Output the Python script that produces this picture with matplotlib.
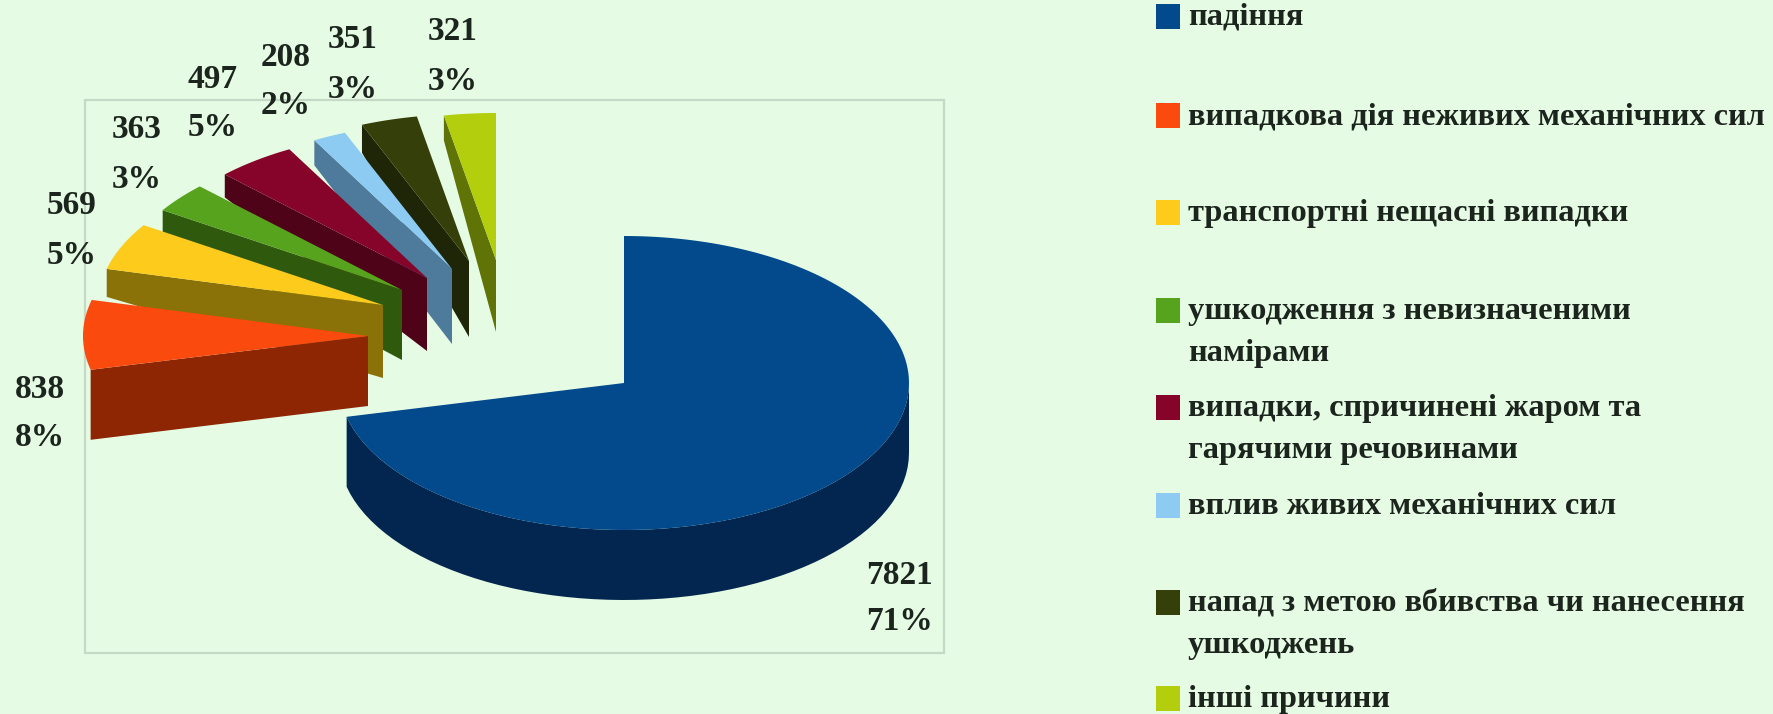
import numpy as np
import matplotlib
matplotlib.use("Agg")
import matplotlib.pyplot as plt
from matplotlib.patches import Polygon, Rectangle

# Injury causes and case counts
causes = [
    "падіння",
    "випадкова дія неживих механічних сил",
    "транспортні нещасні випадки",
    "ушкодження з невизначеними\nнамірами",
    "випадки, спричинені жаром та\nгарячими речовинами",
    "вплив живих механічних сил",
    "напад з метою вбивства чи нанесення\nушкоджень",
    "інші причини",
]
cases = [7821, 838, 569, 363, 497, 208, 351, 321]

# Slice styling
top_colors = ["#024A8C", "#FB4A0E", "#FCCB1C", "#58A31E", "#86042A", "#8DCBF3", "#353F0A", "#B3CE0C"]
side_colors = ["#02264F", "#8E2503", "#8A7209", "#2F590D", "#4E0319", "#4E7A9C", "#1F2607", "#607306"]

# Exploded pie layout, in figure pixels
centre = (624, 383)
rx, ry = 285, 147
explode_dx = [0, -256, -241, -222, -197, -172, -155, -128]
explode_dy = [0, -47, -78, -93, -105, -114, -122, -123]
near_depth = [70, 70, 73, 70, 73, 75, 76, 72]
far_depth = [70, 70, 28, 22, 23, 25, 28, 25]

# Label placement (centre of the count; percentage sits below it)
label_x = [899, 40, 72, 137, 213, 286, 353, 453]
count_y = [575, 389, 206, 129, 79, 58, 40, 32]
share_y = [621, 437, 256, 179, 127, 105, 89, 81]

# Legend placement
legend_y = [16, 115, 212, 310, 407, 505, 602, 698]
BG = "#E6FBE3"
FRAME = "#C6D8C6"
FONT = "Liberation Serif"
INK = "#1C241E"

fig = plt.figure(figsize=(17.73, 7.14), dpi=100, facecolor=BG)
ax = fig.add_axes([0, 0, 1, 1])
ax.set_xlim(0, 1773)
ax.set_ylim(714, 0)
ax.axis("off")

ax.add_patch(Rectangle((85, 99.5), 859, 553, fill=False, ec=FRAME, lw=1.6, zorder=1))


def rim(cx, cy, a0, a1, n=60):
    """Points along the slice's outer edge; angles run clockwise from 12 o'clock."""
    t = np.radians(np.linspace(a0, a1, n))
    return np.column_stack([cx + rx * np.sin(t), cy - ry * np.cos(t)])


total = sum(cases)
edges = np.concatenate([[0], np.cumsum(cases)]) / total * 360

# Back slices are painted first, so the nearer ones cover them
for i in range(len(cases) - 1, 0, -1):
    a0, a1 = edges[i], edges[i + 1]
    cx = centre[0] + explode_dx[i]
    cy = centre[1] + explode_dy[i]
    outer = rim(cx, cy, a0, a0, 1)[0]
    # cut face, tapering towards the far edge
    ax.add_patch(Polygon(
        [outer, (cx, cy), (cx, cy + near_depth[i]), (outer[0], outer[1] + far_depth[i])],
        closed=True, fc=side_colors[i], ec="none", zorder=2 + (8 - i)))
    ax.add_patch(Polygon(
        np.vstack([[(cx, cy)], rim(cx, cy, a0, a1)]),
        closed=True, fc=top_colors[i], ec="none", zorder=2 + (8 - i)))

# Large slice with its curved wall
cx, cy = centre
wall_top = rim(cx, cy, 90, edges[1])
wall_bottom = wall_top + [0, near_depth[0]]
ax.add_patch(Polygon(np.vstack([wall_top, wall_bottom[::-1]]), closed=True,
                     fc=side_colors[0], ec="none", zorder=11))
ax.add_patch(Polygon(np.vstack([[(cx, cy)], rim(cx, cy, 0, edges[1], 160)]), closed=True,
                     fc=top_colors[0], ec="none", zorder=12))

# Data labels
for i, value in enumerate(cases):
    ax.text(label_x[i], count_y[i], str(value), ha="center", va="center", family=FONT,
            weight="bold", fontsize=24, color=INK, zorder=20)
    ax.text(label_x[i], share_y[i], f"{round(value / total * 100)}%", ha="center", va="center",
            family=FONT, weight="bold", fontsize=24, color=INK, zorder=20)

# Legend
for i, cause in enumerate(causes):
    ax.add_patch(Rectangle((1156, legend_y[i] - 12.5), 24, 25, fc=top_colors[i], ec="none", zorder=3))
    ax.text(1188, legend_y[i] - 13, cause, ha="left", va="top", family=FONT, weight="bold",
            fontsize=23.3, color=INK, linespacing=1.6, zorder=20)

fig.savefig("out.png", dpi=100, facecolor=BG)
